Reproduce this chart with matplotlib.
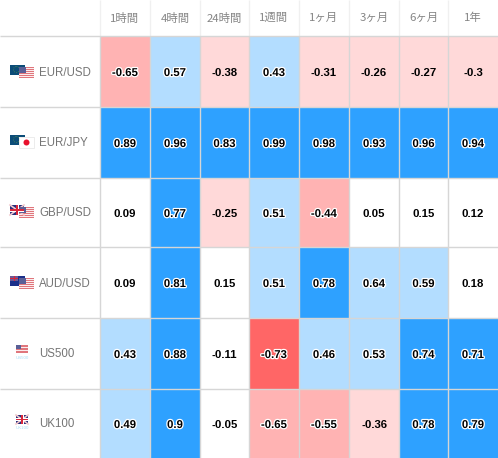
import numpy as np
import matplotlib
matplotlib.use("Agg")
import matplotlib.pyplot as plt
import matplotlib.patheffects as pe
from matplotlib.colors import ListedColormap, BoundaryNorm
from matplotlib.patches import Rectangle, Circle

periods = ["1時間", "4時間", "24時間", "1週間", "1ヶ月", "3ヶ月", "6ヶ月", "1年"]
instruments = ["EUR/USD", "EUR/JPY", "GBP/USD", "AUD/USD", "US500", "UK100"]
eur_usd = [-0.65, 0.57, -0.38, 0.43, -0.31, -0.26, -0.27, -0.3]
eur_jpy = [0.89, 0.96, 0.83, 0.99, 0.98, 0.93, 0.96, 0.94]
gbp_usd = [0.09, 0.77, -0.25, 0.51, -0.44, 0.05, 0.15, 0.12]
aud_usd = [0.09, 0.81, 0.15, 0.51, 0.78, 0.64, 0.59, 0.18]
us500 = [0.43, 0.88, -0.11, -0.73, 0.46, 0.53, 0.74, 0.71]
uk100 = [0.49, 0.9, -0.05, -0.65, -0.55, -0.36, 0.78, 0.79]
rows = [eur_usd, eur_jpy, gbp_usd, aud_usd, us500, uk100]

bins = [-1, -0.7, -0.4, -0.2, 0.2, 0.4, 0.7, 1.0]
colors = ["#FF6666", "#FFB3B3", "#FFD9D9", "#FFFFFF", "#B3DDFF", "#B3DDFF", "#2EA1FF"]

x_edges = np.array([100, 150, 200, 249, 299, 349, 399, 448, 498])
y_edges = np.array([36, 107, 178, 247, 318, 389, 458])

plt.rcParams["font.family"] = ["Liberation Sans", "DejaVu Sans"]
fig = plt.figure(figsize=(4.98, 4.58), dpi=100)
ax = fig.add_axes([0, 0, 1, 1])
ax.set_xlim(0, 498)
ax.set_ylim(458, 0)
ax.axis("off")

ax.pcolormesh(x_edges, y_edges, np.array(rows),
              cmap=ListedColormap(colors), norm=BoundaryNorm(bins, len(colors)),
              zorder=1)

# grid rules
ax.vlines(x_edges[:-1], 36, 458, color="#D6D6D6", lw=1.0, zorder=1.5)
ax.hlines(y_edges[:-1], 0, 498, color="#D6D6D6", lw=1.0, zorder=1.5)
ax.vlines(x_edges[:-1], 0, 36, color="#F0F0F0", lw=1.0, zorder=0)

outline = [pe.withStroke(linewidth=1.8, foreground="white")]
xc = (x_edges[:-1] + x_edges[1:]) / 2
yc = (y_edges[:-1] + y_edges[1:]) / 2

for x, p in zip(xc, periods):
    ax.text(x, 18, p, ha="center", va="center", fontsize=8.2, color="#858585",
            family=["Noto Sans CJK JP", "DejaVu Sans"])

for j, row in enumerate(rows):
    for i, v in enumerate(row):
        txt = ax.text(xc[i], yc[j] + 1.5, f"{v:g}", ha="center", va="center",
                      fontsize=8.2, fontweight="bold", color="black", zorder=3)
        if abs(v) >= 0.4:
            txt.set_path_effects(outline)


def rect(x, y, w, h, c, z=2):
    ax.add_patch(Rectangle((x, y), w, h, fc=c, ec="none", zorder=z))


def us_flag(x, y, w=15, h=11):
    rect(x, y, w, h, "#FBEDEE")
    for k in range(0, 6):
        rect(x, y + k * h / 5.5, w, h / 11, "#E0767C")
    rect(x, y, w * 0.45, h * 0.52, "#5A5F96", 2.1)


def eu_flag(x, y):
    rect(x, y, 15, 10, "#0B4C78")
    ax.add_patch(Circle((x + 6.5, y + 4.5), 3, fc="none", ec="#4F8A4F", lw=0.6, ls=":", zorder=2))


def jp_flag(x, y):
    rect(x, y, 15, 11, "#FFFFFF", 2.2)
    ax.add_patch(Rectangle((x, y), 15, 11, fc="none", ec="#E5E5E5", lw=0.5, zorder=2.3))
    ax.add_patch(Circle((x + 7.5, y + 5.5), 3, fc="#E8112D", ec="none", zorder=2.4))


def uk_flag(x, y, w=12, h=9):
    rect(x, y, w, h, "#27307E")
    ax.plot([x, x + w], [y, y + h], color="#F3C9CC", lw=1.2, zorder=2.1)
    ax.plot([x, x + w], [y + h, y], color="#F3C9CC", lw=1.2, zorder=2.1)
    rect(x + w / 2 - 1.5, y, 3, h, "#FFFFFF", 2.2)
    rect(x, y + h / 2 - 1.5, w, 3, "#FFFFFF", 2.2)
    rect(x + w / 2 - 0.7, y, 1.4, h, "#D8263A", 2.3)
    rect(x, y + h / 2 - 0.7, w, 1.4, "#D8263A", 2.3)


def au_flag(x, y):
    rect(x, y, 15, 10, "#1B2F8A")
    rect(x, y, 8, 5, "#6C5A94", 2.05)
    rect(x, y + 2, 8, 1, "#D8263A", 2.1)
    rect(x + 3.5, y, 1, 5, "#D8263A", 2.1)


eu_flag(10, 65); us_flag(19, 67)
eu_flag(10, 135); jp_flag(19, 137)
uk_flag(10, 205, 14, 10); us_flag(19, 207)
au_flag(10, 276); us_flag(19, 278)
us_flag(16, 345, 12, 8)
uk_flag(16, 415, 12, 9)
ax.text(22, 358, "US500", ha="center", va="center", fontsize=3.2, color="#A8DDF5")
ax.text(22, 428, "UK100", ha="center", va="center", fontsize=3.2, color="#A8DDF5")

for y, name in zip([73, 143, 213, 284, 354, 424], instruments):
    ax.text(39, y, name, ha="left", va="center", fontsize=8.3, color="#757575")

fig.savefig("out.png", dpi=100)
